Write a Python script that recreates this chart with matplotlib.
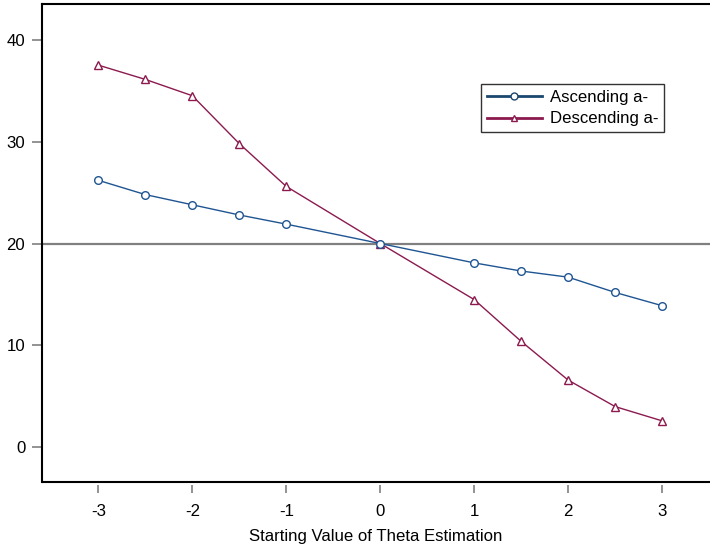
import matplotlib
matplotlib.use("Agg")
import matplotlib.pyplot as plt
from matplotlib.lines import Line2D

plt.rcParams['font.family'] = ['Liberation Sans', 'DejaVu Sans']

theta = [-3, -2.5, -2, -1.5, -1, 0, 1, 1.5, 2, 2.5, 3]
ascending = [26.2, 24.8, 23.8, 22.8, 21.9, 20.0, 18.1, 17.3, 16.7, 15.2, 13.9]
descending = [37.5, 36.1, 34.5, 29.8, 25.6, 20.0, 14.5, 10.4, 6.6, 4.0, 2.6]
xticks = [-3, -2, -1, 0, 1, 2, 3]
yticks = [0, 10, 20, 30, 40]
ref_line = 20
labels = ["Ascending a-", "Descending a-"]

blue = '#1f5592'
red = '#8b1a4f'
fs = 12.1

fig = plt.figure(figsize=(7.1, 5.49), dpi=100)
ax = fig.add_axes([42/710, (549-482)/549, (710-42)/710, (482-4)/549])

ax.axhline(ref_line, color='#808080', lw=1.6, zorder=1)
ax.plot(theta, ascending, color=blue, lw=1.0, marker='o', ms=5.5,
        mfc='white', mec=blue, mew=1.0, zorder=3)
ax.plot(theta, descending, color=red, lw=1.0, marker='^', ms=5.5,
        mfc='white', mec=red, mew=1.0, zorder=2)

ax.set_xlim(-3.6, 3.51)
ax.set_ylim(-3.4, 43.5)
ax.set_xticks(xticks)
ax.set_xticklabels([str(t) for t in xticks])
ax.set_yticks(yticks)
ax.set_yticklabels([str(t) for t in yticks])

for s in ['left', 'top']:
    ax.spines[s].set_linewidth(1.5)
    ax.spines[s].set_color('black')
ax.spines['right'].set_visible(False)
ax.spines['bottom'].set_position(('outward', 2))
ax.spines['bottom'].set_color('none')
ax.plot([0, 1], [0, 0], transform=ax.transAxes, color='black', lw=1.5,
        clip_on=False, zorder=5, solid_capstyle='butt')

ax.tick_params(axis='both', colors='#808080', labelcolor='black',
               labelsize=fs, direction='out', width=1.2)
ax.tick_params(axis='x', length=6, pad=8)
ax.tick_params(axis='y', length=7, pad=5)

ax.set_xlabel("Starting Value of Theta Estimation", fontsize=fs, labelpad=7)

handles = [Line2D([], [], color='#1a476f', lw=2, marker='o', ms=5,
                  mfc='white', mec='#1a476f', mew=1.0),
           Line2D([], [], color=red, lw=2, marker='^', ms=5,
                  mfc='white', mec=red, mew=1.0)]
leg = ax.legend(handles, labels, loc='upper left', bbox_to_anchor=(0.657, 0.833),
                fontsize=fs, frameon=True, fancybox=False, edgecolor='black',
                handlelength=3.3, handletextpad=0.45, borderpad=0.35,
                labelspacing=0.4, borderaxespad=0)
leg.get_frame().set_linewidth(1.0)

fig.savefig("out.png", dpi=100)
